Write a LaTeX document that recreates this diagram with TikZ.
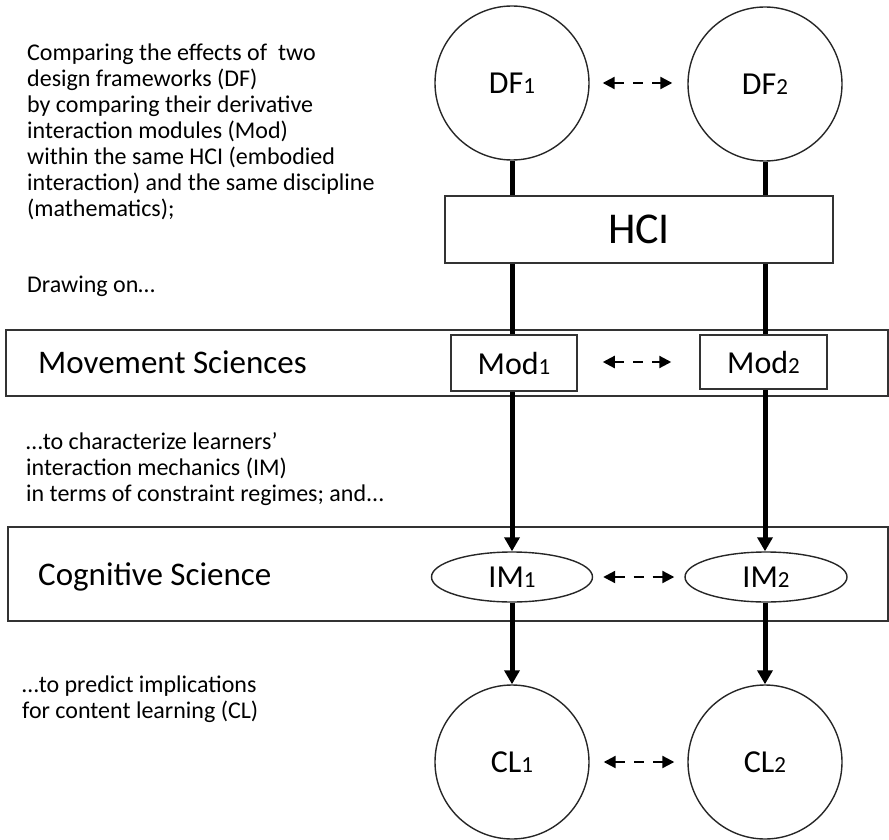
\documentclass[tikz,border=0pt]{standalone}
\usepackage{fontspec}
\setmainfont{Carlito}
\usetikzlibrary{arrows.meta,shapes.geometric,calc}
\newcommand{\sbs}[1]{{\fontsize{23}{23}\selectfont #1}}
\begin{document}
\begin{tikzpicture}[x=1pt,y=-1pt,
  bandline/.style={draw=black!80, line width=1.5pt},
  circnode/.style={circle, draw=black!85, line width=1.4pt, minimum size=154pt, inner sep=0pt, font=\fontsize{32}{32}\selectfont},
  boxnode/.style={rectangle, draw=black!80, line width=1.5pt, inner sep=0pt, font=\fontsize{32}{32}\selectfont},
  ellnode/.style={ellipse, draw=black!85, line width=1.4pt, inner sep=0pt, minimum width=161pt, minimum height=50pt, font=\fontsize{32}{32}\selectfont},
  txt/.style={anchor=base west, align=left, inner sep=0pt, font=\fontsize{24}{26}\selectfont},
  bandtxt/.style={anchor=base west, inner sep=0pt, font=\fontsize{33}{33}\selectfont},
  thickline/.style={line width=5pt},
  thickarrow/.style={line width=5pt, -{Triangle[length=14pt,width=15pt]}},
  dasharrow/.style={line width=2.2pt, dash pattern=on 10pt off 9pt, {Triangle[length=12pt,width=12pt]}-{Triangle[length=12pt,width=12pt]}}
]
\useasboundingbox (0,0) rectangle (889,840);

% bands
\draw[bandline] (6,330) rectangle (888,396);
\draw[bandline] (8,527) rectangle (888,621);
\node[bandtxt] (ms) at (38,373) {Movement Sciences};
\node[bandtxt] (cs) at (38,585) {Cognitive Science};

% texts (anchor at baseline of the last line)
\node[txt] (t1) at (27,216) {Comparing the effects of~ two\\design frameworks (DF)\\by comparing their derivative\\interaction modules (Mod)\\within the same HCI (embodied\\interaction) and the same discipline\\(mathematics);};
\node[txt] (t2) at (27,292) {Drawing on…};
\node[txt] (t3) at (26,501) {…to characterize learners’\\interaction mechanics (IM)\\in terms of constraint regimes; and...};
\node[txt] (t4) at (22,718) {…to predict implications\\for content learning (CL)};

% nodes
\node[circnode] (DF1) at (512,83) {DF\sbs{1}};
\node[circnode] (DF2) at (765,84) {DF\sbs{2}};
\node[boxnode, minimum width=388pt, minimum height=67pt, font=\fontsize{44}{44}\selectfont] (HCI) at (639,229.5) {HCI};
\node[boxnode, fill=white, minimum width=126pt, minimum height=56pt] (Mod1) at (514,363) {Mod\sbs{1}};
\node[boxnode, fill=white, minimum width=127pt, minimum height=54pt] (Mod2) at (763.5,362) {Mod\sbs{2}};
\node[ellnode] (IM1) at (512,577) {IM\sbs{1}};
\node[ellnode, minimum width=162pt] (IM2) at (766,577) {IM\sbs{2}};
\node[circnode] (CL1) at (512,762) {CL\sbs{1}};
\node[circnode] (CL2) at (765,762) {CL\sbs{2}};

% vertical connectors
\draw[thickline] (DF1.south) -- (DF1.south |- HCI.north);
\draw[thickline] (DF2.south) -- (DF2.south |- HCI.north);
\draw[thickline] (DF1 |- HCI.south) -- (DF1 |- Mod1.north);
\draw[thickline] (DF2 |- HCI.south) -- (DF2 |- Mod2.north);
\draw[thickarrow] (DF1 |- Mod1.south) -- (IM1.north);
\draw[thickarrow] (DF2 |- Mod2.south) -- (DF2 |- IM2.north);
\draw[thickarrow] (IM1.south) -- (CL1.north);
\draw[thickarrow] (DF2 |- IM2.south) -- (CL2.north);

% dashed comparisons
\draw[dasharrow, shorten <=13pt, shorten >=15pt] (DF1.east) -- (DF1.east -| DF2.west);
\draw[dasharrow, shorten <=25pt, shorten >=28pt] (Mod1.east |- Mod2.east) -- (Mod2.west);
\draw[dasharrow, shorten <=10pt, shorten >=10pt] (IM1.east) -- (IM2.west);
\draw[dasharrow, shorten <=14pt, shorten >=13pt] (CL1.east) -- (CL2.west);
\end{tikzpicture}
\end{document}
